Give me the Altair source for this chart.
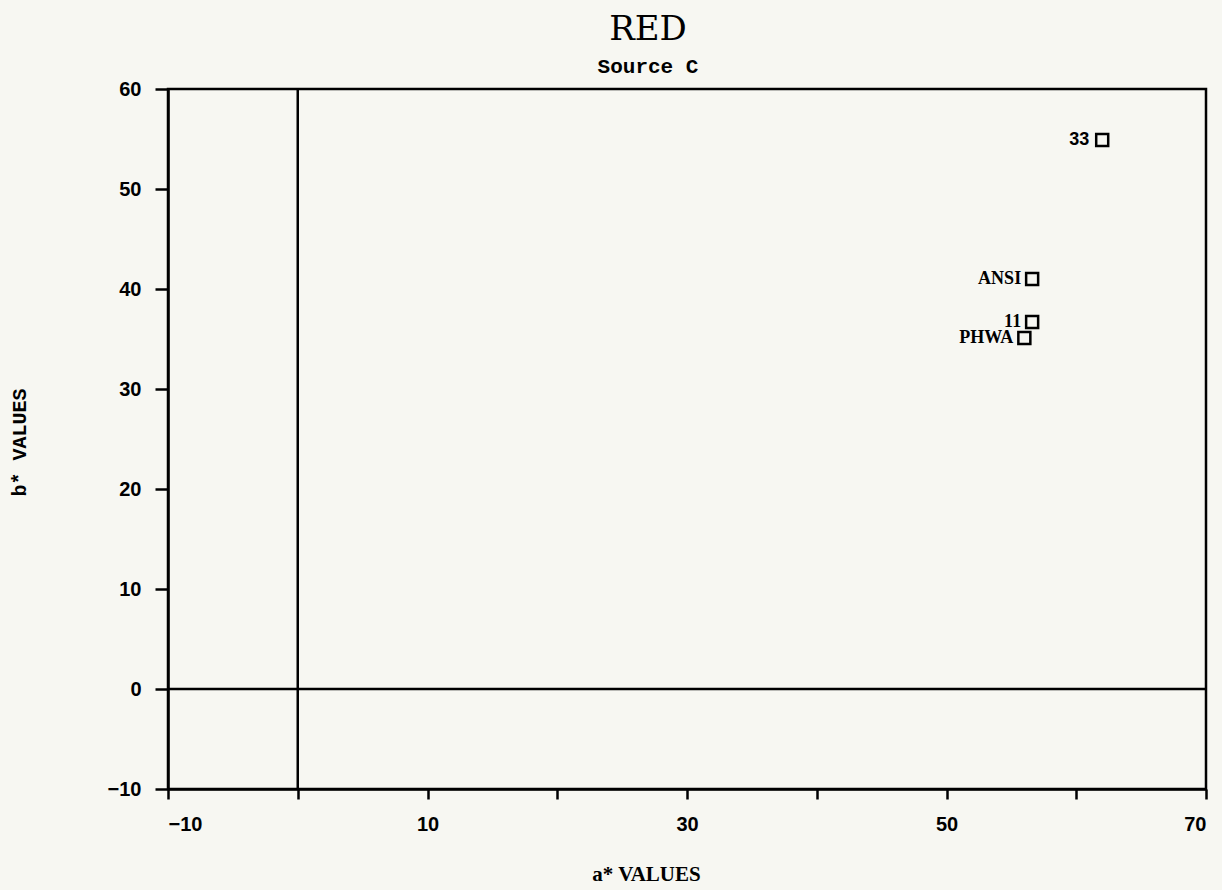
import altair as alt
import pandas as pd

# ---- data ----
labels = ["33", "ANSI", "11", "PHWA"]
a_vals = [62.0, 56.6, 56.6, 56.0]
b_vals = [54.9, 41.0, 36.7, 35.1]
label_style = ["sans", "serif", "serif", "serif"]
x_ticks = [-10, 0, 10, 20, 30, 40, 50, 60, 70]
y_ticks = [-10, 0, 10, 20, 30, 40, 50, 60]
x_zero = [0]
y_zero = [0]

df = pd.DataFrame({"label": labels, "a": a_vals, "b": b_vals, "style": label_style})
df_vx = pd.DataFrame({"a": x_zero})
df_hy = pd.DataFrame({"b": y_zero})

W, H = 1038, 700
xs = alt.Scale(domain=[-10, 70], nice=False, zero=False)
ys = alt.Scale(domain=[-10, 60], nice=False, zero=False)

x_axis = alt.Axis(
    values=x_ticks,
    labelExpr="datum.value % 20 != 0 ? datum.label : ''",
    title="a* VALUES",
    grid=False,
    domainColor="black", domainWidth=2.5,
    tickColor="black", tickWidth=2.5, tickSize=10,
    labelPadding=15, labelFont="Liberation Sans", labelFontWeight="bold",
    labelFontSize=20, labelColor="black",
    titleFont="Liberation Serif", titleFontWeight="bold", titleFontSize=21,
    titleColor="black", titleX=478, titleY=91, titleAlign="center",
    titleBaseline="alphabetic",
)
y_axis = alt.Axis(
    values=y_ticks,
    title="b* VALUES",
    grid=False,
    domainColor="black", domainWidth=2.5,
    tickColor="black", tickWidth=2.5, tickSize=13,
    labelPadding=14, labelFont="Liberation Sans", labelFontWeight="bold",
    labelFontSize=20, labelColor="black",
    titleFont="Liberation Mono", titleFontWeight="bold", titleFontSize=20,
    titleColor="black", titleX=-149, titleY=353, titleAlign="center",
    titleBaseline="middle", titleAngle=270,
)

base = alt.Chart(df)

points = base.mark_point(
    shape="square", filled=False, size=144, strokeWidth=2.5, color="black", opacity=1
).encode(
    x=alt.X("a:Q", scale=xs, axis=x_axis),
    y=alt.Y("b:Q", scale=ys, axis=y_axis),
)

text_serif = base.transform_filter("datum.style == 'serif'").mark_text(
    align="right", baseline="middle", dx=-11, font="Liberation Serif",
    fontWeight="bold", fontSize=18, color="black"
).encode(x=alt.X("a:Q", scale=xs), y=alt.Y("b:Q", scale=ys), text="label:N")

text_sans = base.transform_filter("datum.style == 'sans'").mark_text(
    align="right", baseline="middle", dx=-13, font="Liberation Sans",
    fontWeight="bold", fontSize=18, color="black"
).encode(x=alt.X("a:Q", scale=xs), y=alt.Y("b:Q", scale=ys), text="label:N")

vrule = alt.Chart(df_vx).mark_rule(color="black", strokeWidth=2.5).encode(
    x=alt.X("a:Q", scale=xs)
)
hrule = alt.Chart(df_hy).mark_rule(color="black", strokeWidth=2.5).encode(
    y=alt.Y("b:Q", scale=ys)
)

chart = alt.layer(vrule, hrule, points, text_serif, text_sans).properties(
    width=W, height=H,
    title=alt.TitleParams(
        text="RED", subtitle="Source C",
        font="DejaVu Serif", fontSize=34, fontWeight="normal", color="black",
        subtitleFont="Liberation Mono", subtitleFontSize=21,
        subtitleFontWeight="bold", subtitleColor="black",
        anchor="middle", dx=-39, offset=2, subtitlePadding=9,
    ),
    autosize=alt.AutoSizeParams(type="none"),
    padding={"left": 168, "top": 89, "right": 16, "bottom": 101},
    background="#f7f7f2",
).configure_view(stroke="black", strokeWidth=2.5)

chart.save("out.html", embed_options={"renderer": "svg", "actions": False})
